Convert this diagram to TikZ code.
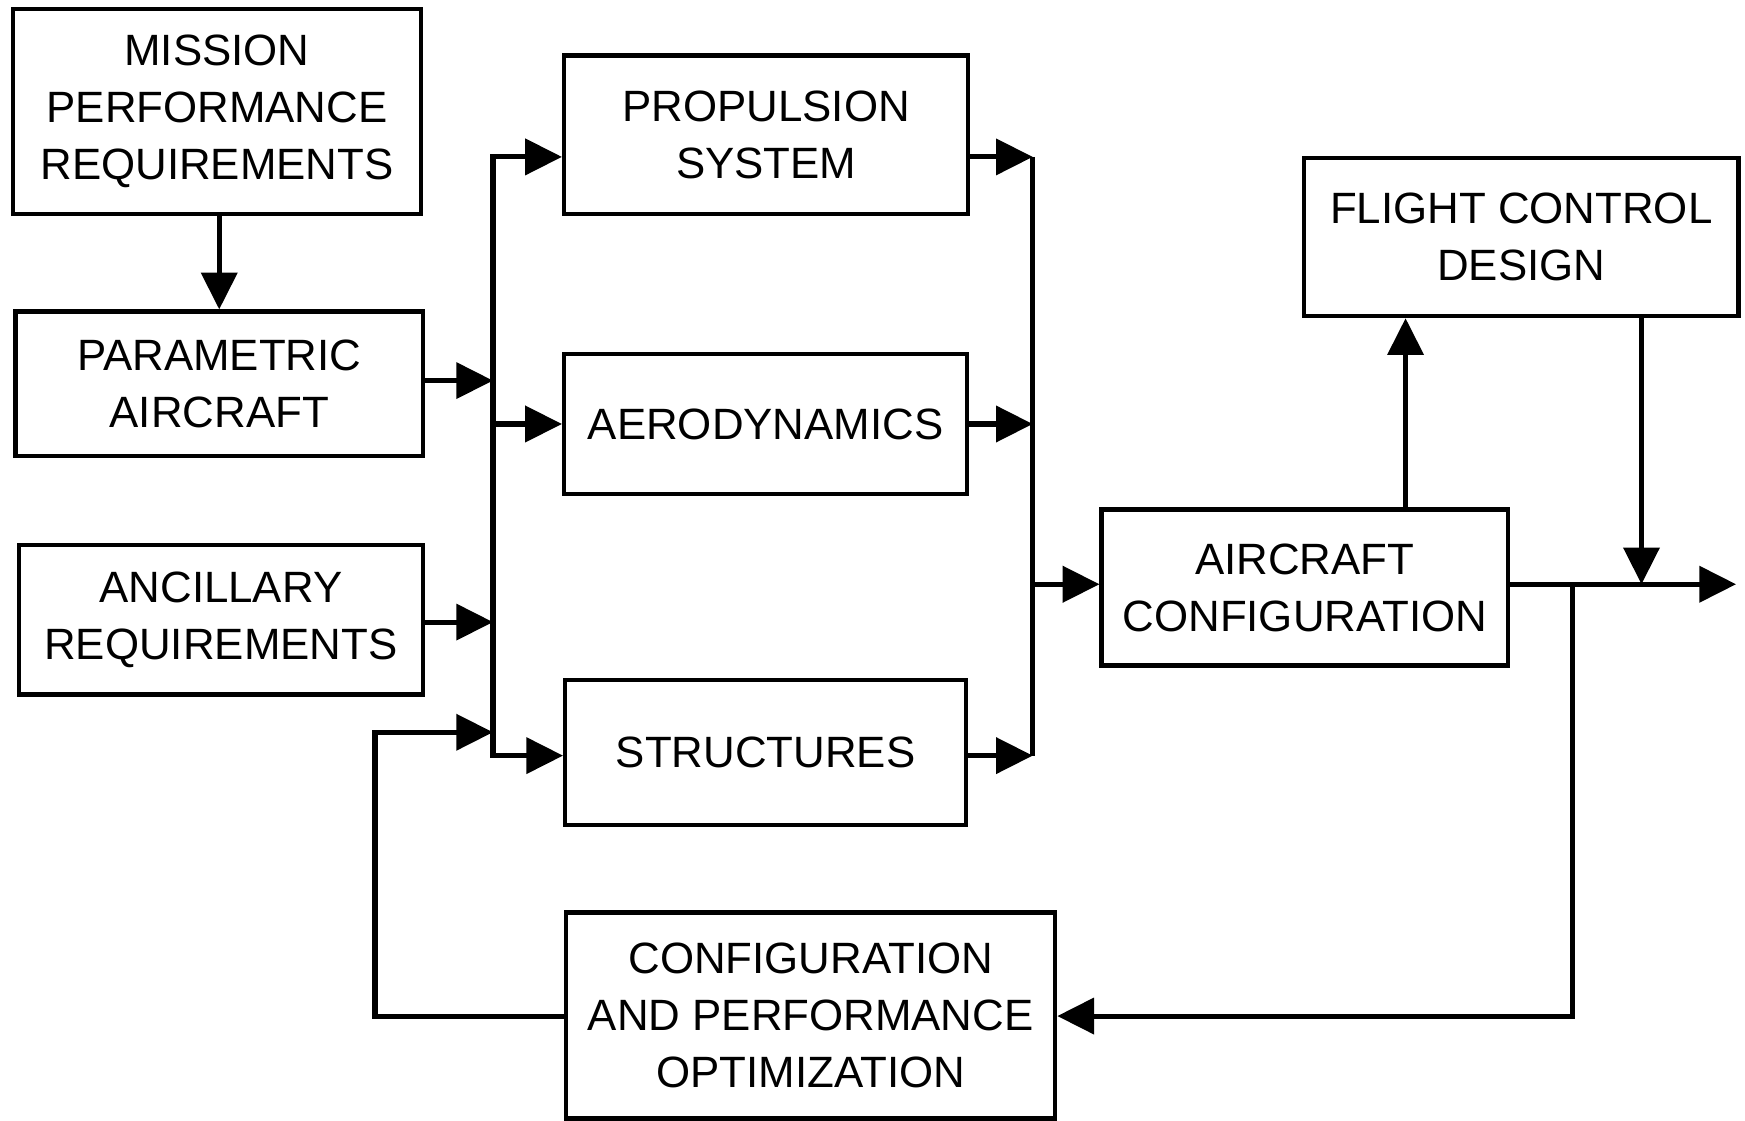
\documentclass[tikz,border=0pt]{standalone}
\usepackage{fontspec}
\setmainfont{Liberation Sans}
\usetikzlibrary{arrows.meta}
\begin{document}
\begin{tikzpicture}[x=0.01cm,y=-0.01cm,
  box/.style={draw, line width=1.1pt, align=center, inner sep=0pt, font=\fontsize{11.2pt}{14.5pt}\selectfont},
  conn/.style={line width=1.3pt},
  arr/.style={conn, -{Triangle[length=0.33cm,width=0.32cm]}}]
\useasboundingbox (0,0) rectangle (1568,1007);
\fill[white] (0,0) rectangle (1568,1007);
\node[box, minimum width=3.66cm, minimum height=1.84cm] (mission) at (195,100) {MISSION\\PERFORMANCE\\REQUIREMENTS};
\node[box, minimum width=3.66cm, minimum height=1.30cm] (param) at (197,345) {PARAMETRIC\\AIRCRAFT};
\node[box, minimum width=3.63cm, minimum height=1.34cm] (ancil) at (198.5,557) {ANCILLARY\\REQUIREMENTS};
\node[box, minimum width=3.63cm, minimum height=1.42cm] (prop) at (688.5,121) {PROPULSION\\SYSTEM};
\node[box, minimum width=3.62cm, minimum height=1.26cm] (aero) at (688,381) {AERODYNAMICS};
\node[box, minimum width=3.60cm, minimum height=1.30cm] (struct) at (688,676) {STRUCTURES};
\node[box, minimum width=3.90cm, minimum height=1.42cm] (flight) at (1367,213) {FLIGHT CONTROL\\DESIGN};
\node[box, minimum width=3.65cm, minimum height=1.40cm] (acconf) at (1172.5,528) {AIRCRAFT\\CONFIGURATION};
\node[box, minimum width=4.39cm, minimum height=1.85cm] (opt) at (728.5,912.5) {CONFIGURATION\\AND PERFORMANCE\\OPTIMIZATION};
% coordinates
\coordinate (lbT) at (443,141);
\coordinate (lbB) at (443,679);
\coordinate (lbA) at (443,381);
\coordinate (lbP) at (443,342);
\coordinate (lbN) at (443,559);
\coordinate (lbF) at (443,658);
\coordinate (rbT) at (928,141);
\coordinate (rbB) at (928,679);
\coordinate (rbA) at (928,381);
\coordinate (rbC) at (928,525);
\coordinate (outR) at (1560,525);
\coordinate (brk) at (1413,525);
\coordinate (brkD) at (1413,913);
\coordinate (fbL) at (337,913);
\coordinate (fbU) at (337,658);
\coordinate (fcJ) at (1475,525);
% connectors
\draw[arr] (mission.south -| 197,0) -- (param.north -| 197,0);
\draw[arr] (lbB) -- (lbT) -- (lbT -| prop.west);
\draw[arr] (lbT) -- (lbB) -- (lbB -| struct.west);
\draw[arr] (lbA) -- (lbA -| aero.west);
\draw[arr] (param.east |- lbP) -- (lbP);
\draw[arr] (ancil.east |- lbN) -- (lbN);
\draw[conn] (rbT) -- (rbB);
\draw[arr] (prop.east |- rbT) -- (rbT);
\draw[arr] (aero.east |- rbA) -- (rbA);
\draw[arr] (struct.east |- rbB) -- (rbB);
\draw[arr] (rbC) -- (rbC -| acconf.west);
\draw[arr] (acconf.north -| 1263,0) -- (flight.south -| 1263,0);
\draw[arr] (flight.south -| fcJ) -- (fcJ);
\draw[arr] (acconf.east |- outR) -- (outR);
\draw[arr] (brk) -- (brkD) -- (brkD -| opt.east);
\draw[arr] (opt.west |- fbL) -- (fbL) -- (fbU) -- (lbF);
\end{tikzpicture}
\end{document}
